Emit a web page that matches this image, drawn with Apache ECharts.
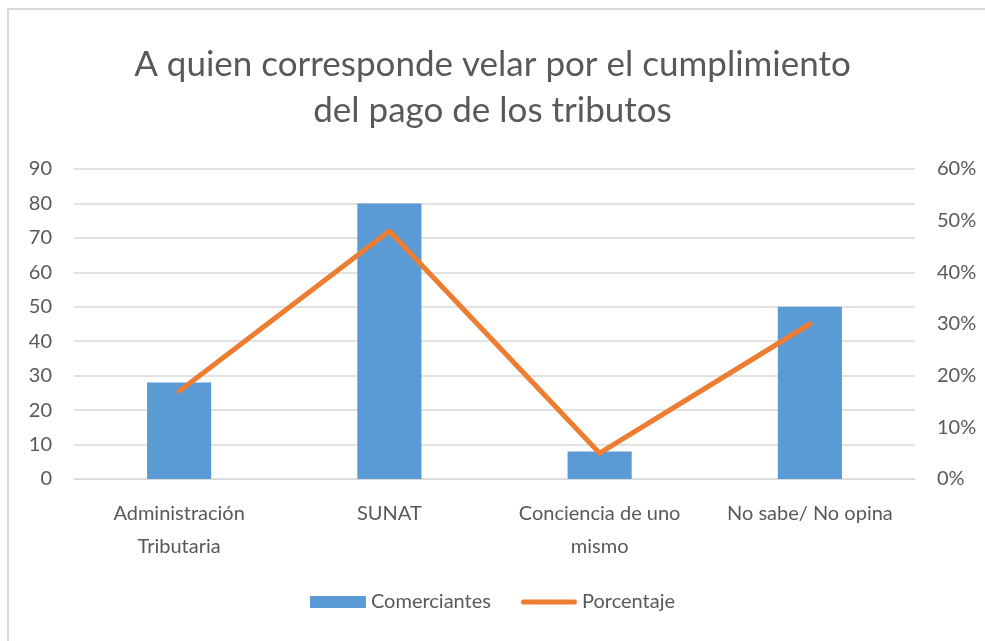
<!DOCTYPE html>
<html>
<head>
<meta charset="utf-8">
<script src="https://cdn.jsdelivr.net/npm/echarts@6/dist/echarts.min.js"></script>
<style>
  html, body { margin: 0; padding: 0; background: #fff; }
  #chart { width: 985px; height: 641px; }
</style>
</head>
<body>
<div id="chart"></div>
<script>
var categories = ['Administración\nTributaria', 'SUNAT', 'Conciencia de uno\nmismo', 'No sabe/ No opina']
var comerciantes = [28, 80, 8, 50]
var porcentaje = [0.17, 0.48, 0.05, 0.30]

var textColor = '#595959'
var fontFamily = 'Lato, "Open Sans", sans-serif'
// thin bar in the middle of a 56x12 box, so the legend shows a thick line
var lineIcon = 'path://M0,0 L0.01,0 L0,0.01 Z M2.5,3.5 L53.5,3.5 A2.5,2.5 0 0 1 53.5,8.5 L2.5,8.5 A2.5,2.5 0 0 1 2.5,3.5 Z M56,12 L55.99,12 L56,11.99 Z'

var myChart = echarts.init(document.getElementById('chart'))
var option = {
  backgroundColor: '#fff',
  textStyle: { fontFamily: fontFamily },
  title: {
    text: 'A quien corresponde velar por el cumplimiento\ndel pago de los tributos',
    left: 'center',
    top: 37,
    textStyle: {
      color: textColor,
      fontSize: 35,
      fontWeight: 'normal',
      lineHeight: 46,
      fontFamily: fontFamily
    }
  },
  graphic: [
    {
      type: 'polyline',
      shape: { points: [[8, 641], [8, 9], [985, 9]] },
      style: { fill: 'none', stroke: '#d9d9d9', lineWidth: 2 },
      silent: true
    }
  ],
  legend: {
    bottom: 24,
    left: 'center',
    itemGap: 30,
    itemTextGap: 6,
    itemWidth: 56,
    itemHeight: 12,
    textStyle: { color: textColor, fontSize: 20 },
    data: [
      { name: 'Comerciantes', icon: 'rect' },
      { name: 'Porcentaje', icon: lineIcon, itemStyle: { color: '#ed7d31', borderWidth: 0 } }
    ]
  },
  grid: {
    left: 74,
    right: 70,
    top: 169,
    bottom: 162,
    containLabel: false
  },
  xAxis: {
    type: 'category',
    data: categories,
    axisLine: { show: true, lineStyle: { color: '#d9d9d9', width: 1 } },
    axisTick: { show: false },
    axisLabel: {
      color: textColor,
      fontSize: 20,
      lineHeight: 33,
      margin: 18,
      interval: 0
    }
  },
  yAxis: [
    {
      type: 'value',
      min: 0,
      max: 90,
      interval: 10,
      axisLine: { show: false },
      axisTick: { show: false },
      splitLine: { lineStyle: { color: '#d9d9d9', width: 1.5 } },
      axisLabel: { color: textColor, fontSize: 20, margin: 22 }
    },
    {
      type: 'value',
      min: 0,
      max: 0.6,
      interval: 0.1,
      axisLine: { show: false },
      axisTick: { show: false },
      splitLine: { show: false },
      axisLabel: {
        color: textColor,
        fontSize: 20,
        margin: 22,
        formatter: function(v) {
          return Math.round(v * 100) + '%'
        }
      }
    }
  ],
  series: [
    {
      name: 'Comerciantes',
      type: 'bar',
      barWidth: '30.5%',
      itemStyle: { color: '#5b9bd5' },
      data: comerciantes
    },
    {
      name: 'Porcentaje',
      type: 'line',
      yAxisIndex: 1,
      symbol: 'none',
      lineStyle: { color: '#ed7d31', width: 5, cap: 'round', join: 'round' },
      itemStyle: { color: '#ed7d31' },
      data: porcentaje
    }
  ]
}
myChart.setOption(option)
</script>
</body>
</html>
